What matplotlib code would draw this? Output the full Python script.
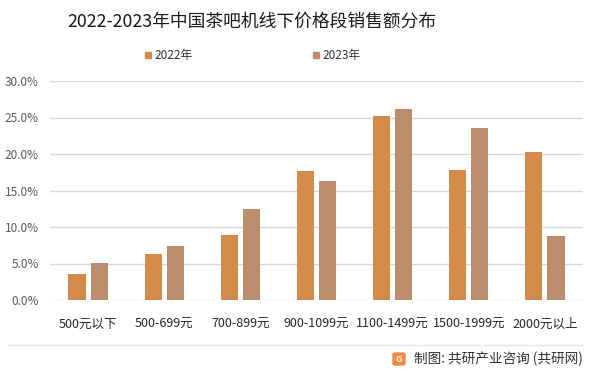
import matplotlib
matplotlib.use("Agg")
import matplotlib.pyplot as plt
import numpy as np
from matplotlib.patches import FancyBboxPatch
from matplotlib.lines import Line2D

plt.rcParams['font.family'] = ['Noto Sans CJK SC', 'DejaVu Sans']

categories = ["500元以下", "500-699元", "700-899元", "900-1099元", "1100-1499元", "1500-1999元", "2000元以上"]
series_names = ["2022年", "2023年"]
values_2022 = [3.6, 6.3, 8.9, 17.7, 25.2, 17.8, 20.3]
values_2023 = [5.1, 7.4, 12.5, 16.3, 26.2, 23.6, 8.8]
yticks = [0, 5, 10, 15, 20, 25, 30]
title = "2022-2023年中国茶吧机线下价格段销售额分布"
source = "制图: 共研产业咨询 (共研网)"

c2022 = "#D48A4B"
c2023 = "#BC8D6C"

W, H = 602, 374
fig = plt.figure(figsize=(W/100, H/100), dpi=100)
ax = fig.add_axes([50/W, 1-300/H, 533/W, 219/H])

x = np.arange(len(categories))
bw = 0.225
ax.bar(x - 0.145, values_2022, width=bw, color=c2022, zorder=3)
ax.bar(x + 0.145, values_2023, width=bw, color=c2023, zorder=3)

ax.set_xlim(-0.5, len(categories) - 0.5)
ax.set_ylim(0, 30)
ax.set_yticks(yticks)
ax.set_yticklabels([f"{v:.1f}%" for v in yticks], fontsize=8.5, color="#595959")
ax.set_xticks(x)
ax.set_xticklabels(categories, fontsize=9, color="#262626")
ax.tick_params(axis='both', length=0)
ax.tick_params(axis='y', pad=8)
ax.tick_params(axis='x', pad=13)
ax.yaxis.grid(True, color="#D9D9D9", linewidth=1.0, zorder=0)
for s in ax.spines.values():
    s.set_visible(False)

fig.text(252/W, 1-22/H, title, fontsize=12.8, ha='center', va='center', color="#1a1a1a")

# legend
fig.patches.append(FancyBboxPatch((145/W, 1-58/H), 6/W, 6/H, boxstyle="square,pad=0",
                                  transform=fig.transFigure, color=c2022, figure=fig))
fig.text(154/W, 1-55/H, series_names[0], fontsize=8.5, va='center', ha='left', color="#333333")
fig.patches.append(FancyBboxPatch((313/W, 1-58/H), 6/W, 6/H, boxstyle="square,pad=0",
                                  transform=fig.transFigure, color=c2023, figure=fig))
fig.text(322/W, 1-55/H, series_names[1], fontsize=8.5, va='center', ha='left', color="#333333")

# separator line
fig.add_artist(Line2D([8/W, 583/W], [1-345/H, 1-345/H], color="#E6E6E6", linewidth=1.0))

# logo + source
fig.patches.append(FancyBboxPatch((393/W, 1-365/H), 12/W, 12/H, boxstyle="round,pad=0,rounding_size=0.004",
                                  transform=fig.transFigure, color="#F08A3C", figure=fig))
fig.text(399/W, 1-359/H, "G", fontsize=6.5, color="white", ha='center', va='center', fontweight='bold')
fig.text(583/W, 1-359/H, source, fontsize=9.8, ha='right', va='center', color="#333333")

fig.savefig("out.png", dpi=100)
